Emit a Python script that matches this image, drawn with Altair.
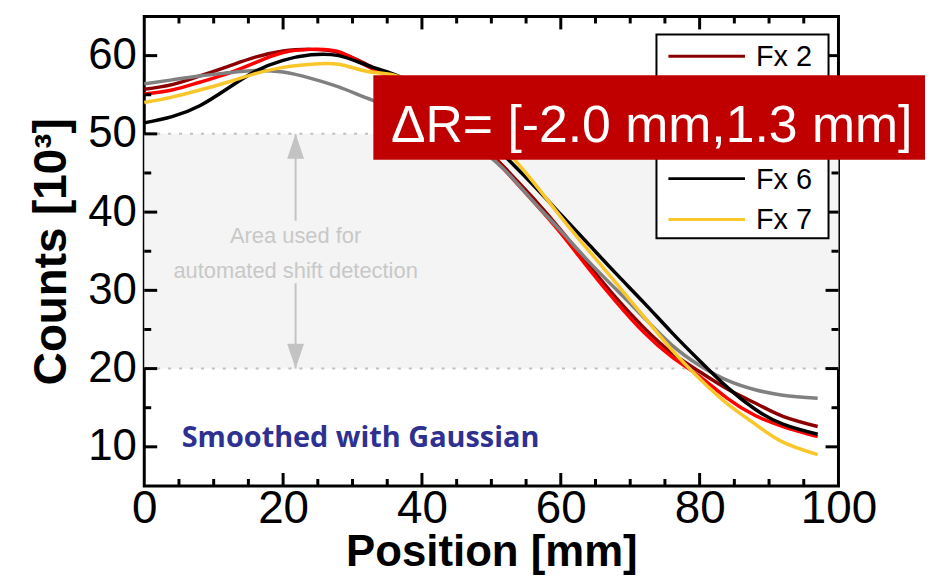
import altair as alt
import pandas as pd

# ---------------- data ----------------
positions = [0, 4, 8, 12, 16, 20, 24, 28, 32, 36, 40, 44, 48, 52, 56, 60, 64, 68, 72, 76, 80, 84, 88, 92, 97]

series_names = ["Fx 2", "Fx 3", "Fx 4", "Fx 6", "Fx 7"]
series_colors = ["#8b0000", "#ff0000", "#808080", "#000000", "#f9c72a"]

fx2 = [55.7, 56.3, 57.4, 58.6, 59.8, 60.6, 60.8, 60.4, 58.9, 57.2, 55.2, 52.5, 49.2, 45.6, 41.8, 37.7, 33.3, 29.0, 25.2, 22.0, 19.6, 17.4, 15.6, 13.9, 12.6]
fx3 = [55.1, 55.6, 56.6, 57.7, 59.1, 60.4, 60.8, 60.5, 58.7, 57.0, 55.0, 52.3, 49.0, 45.3, 41.4, 37.3, 32.8, 28.5, 24.6, 21.5, 19.0, 16.2, 14.0, 12.6, 11.3]
fx4 = [56.4, 56.9, 57.4, 57.8, 58.1, 57.9, 57.1, 56.0, 54.6, 53.3, 51.8, 50.0, 48.2, 45.3, 41.4, 37.6, 33.7, 30.1, 26.5, 23.0, 20.4, 18.5, 17.3, 16.6, 16.2]
fx6 = [51.4, 52.2, 53.6, 55.8, 58.0, 59.4, 60.1, 60.0, 58.8, 57.6, 56.0, 53.8, 50.7, 47.1, 43.5, 39.7, 35.9, 32.1, 28.4, 24.6, 21.0, 17.6, 14.8, 12.9, 11.6]
fx7 = [54.0, 54.7, 55.6, 56.6, 57.7, 58.5, 58.9, 58.9, 58.0, 57.5, 56.1, 54.0, 51.3, 48.0, 43.9, 39.4, 35.1, 30.9, 26.6, 22.4, 18.7, 15.5, 12.9, 10.6, 9.0]
series_values = [fx2, fx3, fx4, fx6, fx7]

x_major_ticks = [0, 20, 40, 60, 80, 100]
x_minor_ticks = [5, 10, 15, 25, 30, 35, 45, 50, 55, 65, 70, 75, 85, 90, 95]
y_major_ticks = [10, 20, 30, 40, 50, 60]
y_minor_ticks = [15, 25, 35, 45, 55]

band_limits = [20, 50]
arrow_x = [21.8]
shaft_top = [50, 38.9]
shaft_bottom = [30.9, 20]
area_text = ["Area used for", "automated shift detection"]
area_text_y = [36.1, 31.6]
smooth_text = ["Smoothed with Gaussian"]
smooth_pos = [5.4, 10.0]
box_x = [33.0, 112.5]
box_y = [46.7, 57.5]
box_text = ["\u0394R= [-2.0 mm,1.3 mm]"]
box_text_pos = [73.1, 49.0]

# ---------------- chart ----------------
W, H = 698, 472
FONT = "Liberation Sans"
xs = alt.Scale(domain=[0, 100], nice=False, zero=False)
ys = alt.Scale(domain=[5, 65], nice=False, zero=False)

x_axis = alt.Axis(
    values=x_major_ticks, domain=False, ticks=False, grid=False,
    labelFont=FONT, labelFontSize=46, labelColor="black", labelPadding=1,
    labelFlush=False, labelOverlap=False,
    title="Position [mm]", titleFont=FONT, titleFontSize=44, titleFontWeight="bold",
    titleColor="black", titleBaseline="alphabetic", titleY=80,
)
y_axis = alt.Axis(
    values=y_major_ticks, domain=False, ticks=False, grid=False,
    labelFont=FONT, labelFontSize=44, labelColor="black", labelPadding=8,
    labelFlush=False, labelOverlap=False,
    title="Counts [10\u00b3]", titleFont=FONT, titleFontSize=46, titleFontWeight="bold",
    titleColor="black", titlePadding=12,
)


def X(field):
    return alt.X(field, scale=xs, axis=x_axis, title="Position [mm]")


def Y(field):
    return alt.Y(field, scale=ys, axis=y_axis, title="Counts [10\u00b3]")


rows = []
for name, vals in zip(series_names, series_values):
    for p, v in zip(positions, vals):
        rows.append({"pos": p, "counts": v, "series": name})
df = pd.DataFrame(rows)

band = alt.Chart(pd.DataFrame({"x0": [0], "x1": [100], "lo": [band_limits[0]], "hi": [band_limits[1]]})).mark_rect(
    color="#f4f4f4"
).encode(x=X("x0:Q"), x2="x1:Q", y=Y("lo:Q"), y2="hi:Q")

dotted = alt.Chart(pd.DataFrame({"v": band_limits})).mark_rule(
    color="#c0c0c0", strokeWidth=2, strokeDash=[3, 8]
).encode(y=Y("v:Q"))

shafts = alt.Chart(pd.DataFrame({
    "x": arrow_x * 2, "y0": [shaft_top[0], shaft_bottom[0]], "y1": [shaft_top[1], shaft_bottom[1]]
})).mark_rule(color="#c3c3c3", strokeWidth=2).encode(x=X("x:Q"), y=Y("y0:Q"), y2="y1:Q")

head_up = alt.Chart(pd.DataFrame({"x": arrow_x, "y": [band_limits[1]]})).mark_point(
    shape="M0,0 L0.68,2 L-0.68,2 Z", size=625, filled=True, color="#c3c3c3", opacity=1
).encode(x=X("x:Q"), y=Y("y:Q"))

head_down = alt.Chart(pd.DataFrame({"x": arrow_x, "y": [band_limits[0]]})).mark_point(
    shape="M0,0 L0.68,-2 L-0.68,-2 Z", size=625, filled=True, color="#c3c3c3", opacity=1
).encode(x=X("x:Q"), y=Y("y:Q"))

area_txt = alt.Chart(pd.DataFrame({"x": arrow_x * 2, "y": area_text_y, "t": area_text})).mark_text(
    font=FONT, fontSize=22, color="#c8c8c8", align="center", baseline="alphabetic"
).encode(x=X("x:Q"), y=Y("y:Q"), text="t:N")

lines = alt.Chart(df).mark_line(strokeWidth=3.5, interpolate="natural").encode(
    x=X("pos:Q"),
    y=Y("counts:Q"),
    color=alt.Color("series:N", scale=alt.Scale(domain=series_names, range=series_colors), legend=None),
)

smooth = alt.Chart(pd.DataFrame({"x": [smooth_pos[0]], "y": [smooth_pos[1]], "t": smooth_text})).mark_text(
    font="Open Sans", fontWeight="bold", fontSize=29, color="#2e3191", align="left", baseline="alphabetic"
).encode(x=X("x:Q"), y=Y("y:Q"), text="t:N")


def xticks(vals, length):
    d = pd.DataFrame({"v": vals})
    bottom = alt.Chart(d).mark_rule(color="black", strokeWidth=3).encode(
        x=X("v:Q"), y=alt.value(H), y2=alt.value(H - length))
    top = alt.Chart(d).mark_rule(color="black", strokeWidth=3).encode(
        x=X("v:Q"), y=alt.value(0), y2=alt.value(length))
    return [bottom, top]


def yticks(vals, length):
    d = pd.DataFrame({"v": vals})
    left = alt.Chart(d).mark_rule(color="black", strokeWidth=3).encode(
        y=Y("v:Q"), x=alt.value(0), x2=alt.value(length))
    right = alt.Chart(d).mark_rule(color="black", strokeWidth=3).encode(
        y=Y("v:Q"), x=alt.value(W), x2=alt.value(W - length))
    return [left, right]


tick_layers = xticks(x_major_ticks[1:-1], 13) + xticks(x_minor_ticks, 7) + \
    yticks(y_major_ticks, 13) + yticks(y_minor_ticks, 7)

# legend (drawn as marks so that the red annotation box can cover it)
one = pd.DataFrame({"a": [0]})
legend_box = alt.Chart(one).mark_rect(fill="white", stroke="black", strokeWidth=2).encode(
    x=alt.value(515), x2=alt.value(688), y=alt.value(18), y2=alt.value(223))
legend_layers = [legend_box]
for i, (name, col) in enumerate(zip(series_names, series_colors)):
    yy = 40 + 41 * i
    d = pd.DataFrame({"label": [name]})
    legend_layers.append(alt.Chart(d).mark_rule(color=col, strokeWidth=3).encode(
        x=alt.value(527), x2=alt.value(604), y=alt.value(yy)))
    legend_layers.append(alt.Chart(d).mark_text(
        font=FONT, fontSize=29, color="black", align="left", baseline="middle").encode(
        x=alt.value(615), y=alt.value(yy + 1), text="label:N"))

red_box = alt.Chart(pd.DataFrame({"x0": [box_x[0]], "x1": [box_x[1]], "y0": [box_y[0]], "y1": [box_y[1]]})).mark_rect(
    color="#c00000"
).encode(x=X("x0:Q"), x2="x1:Q", y=Y("y0:Q"), y2="y1:Q")

red_text = alt.Chart(pd.DataFrame({"x": [box_text_pos[0]], "y": [box_text_pos[1]], "t": box_text})).mark_text(
    font=FONT, fontSize=52, color="white", align="center", baseline="alphabetic"
).encode(x=X("x:Q"), y=Y("y:Q"), text="t:N")

chart = alt.layer(
    band, dotted, shafts, head_up, head_down, area_txt, lines, smooth,
    *tick_layers, *legend_layers, red_box, red_text
).properties(
    width=W, height=H,
    autosize=alt.AutoSizeParams(type="none"),
    padding={"left": 137, "top": 7, "right": 87, "bottom": 90},
    background="white",
).configure_view(stroke="black", strokeWidth=3)

chart.save("out.html", embed_options={"renderer": "svg", "actions": False})
